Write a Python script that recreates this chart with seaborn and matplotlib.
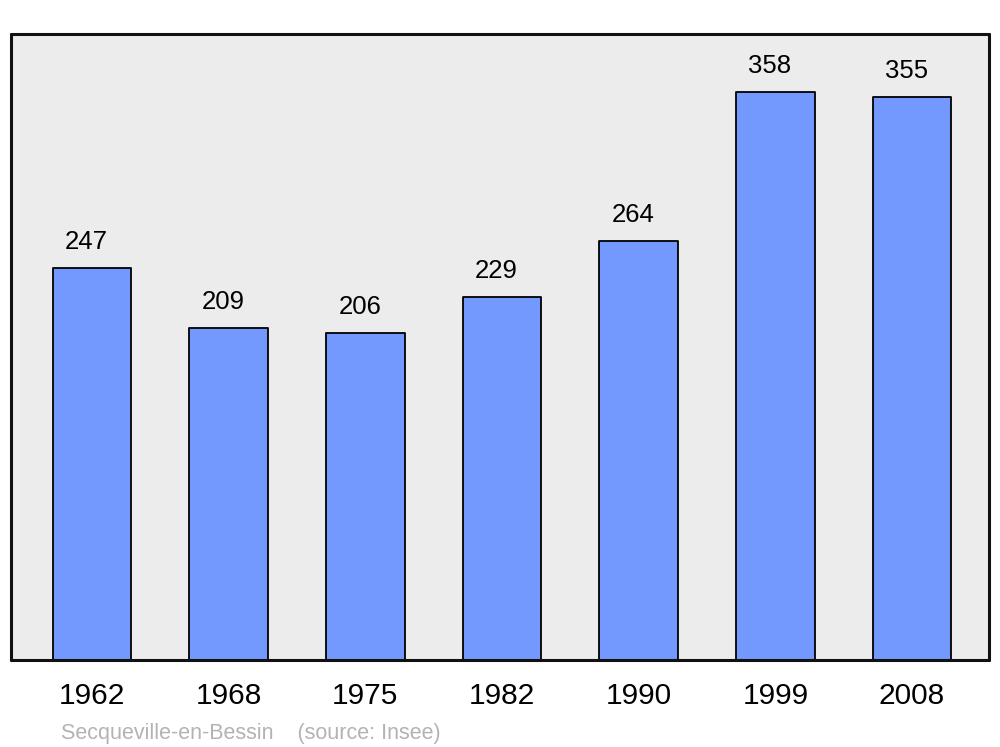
import pandas as pd
import matplotlib
matplotlib.use('Agg')
import matplotlib.pyplot as plt
import seaborn as sns

years = ['1962', '1968', '1975', '1982', '1990', '1999', '2008']
population = [247, 209, 206, 229, 264, 358, 355]
commune = 'Secqueville-en-Bessin'
source = '(source: Insee)'

df = pd.DataFrame({'year': years, 'pop': population})

sns.set_style('white')
plt.rcParams['font.family'] = ['Liberation Sans', 'DejaVu Sans']

fig = plt.figure(figsize=(10, 7.47), dpi=100)
ax = fig.add_axes([0.011, 1 - 660 / 747, 0.978, (660 - 34) / 747])
ax.set_facecolor('#ececec')

sns.barplot(data=df, x='year', y='pop', color='#7399ff', saturation=1,
            width=0.575, edgecolor='black', linewidth=1.3, ax=ax)
for p in ax.patches:
    p.set_joinstyle('round')

for i, v in enumerate(population):
    ax.annotate(str(v), (i, v), xytext=(-4, 10), textcoords='offset points',
                ha='center', va='bottom', fontsize=18.5, color='black')

ax.set_xlim(-0.593, 6.563)
ax.set_ylim(0, 394.5)
ax.set_yticks([])
ax.set_xlabel('')
ax.set_ylabel('')
ax.tick_params(axis='x', length=0, labelsize=21.5, pad=16, labelcolor='black')
for s in ax.spines.values():
    s.set_visible(True)
    s.set_linewidth(2.2)
    s.set_color('#111111')
    s.set_joinstyle('round')
    s.set_capstyle('round')

fig.text(0.061, 1 - 733 / 747, commune + '    ' + source, fontsize=15.5,
         color='#b3b3b3', va='center', ha='left')

fig.savefig('out.png', dpi=100, facecolor='white')
